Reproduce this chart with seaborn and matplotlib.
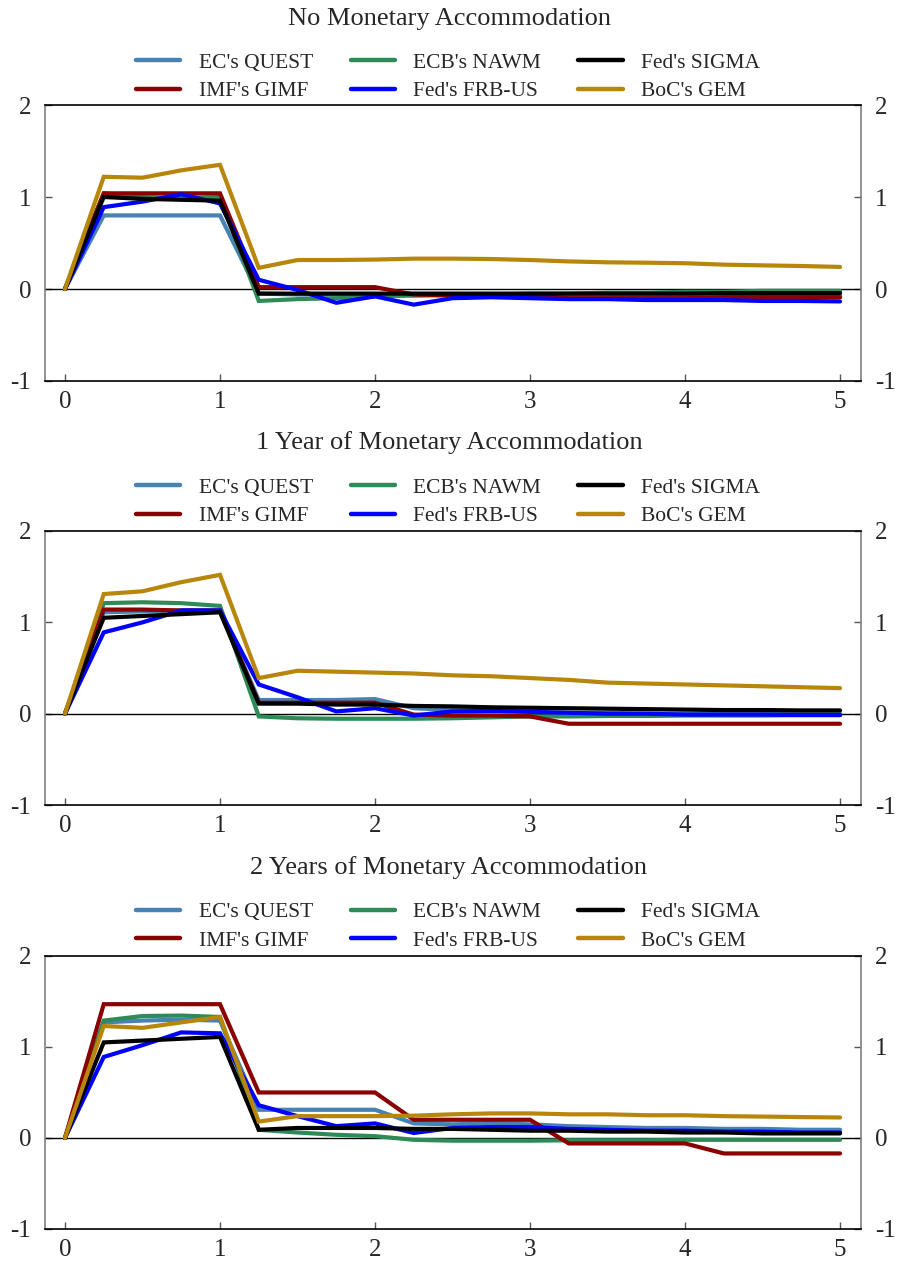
import numpy as np
import pandas as pd
import matplotlib
matplotlib.use("Agg")
import matplotlib.pyplot as plt
import seaborn as sns

# Quarterly horizon, years 0..5
years = [i * 0.25 for i in range(21)]

models = ["EC's QUEST", "IMF's GIMF", "ECB's NAWM", "Fed's FRB-US", "Fed's SIGMA", "BoC's GEM"]
colors = ["#4682B4", "#8B0000", "#2E8B57", "#0000FF", "#000000", "#B8860B"]
draw_order = ["EC's QUEST", "ECB's NAWM", "IMF's GIMF", "Fed's FRB-US", "Fed's SIGMA", "BoC's GEM"]

titles = ["No Monetary Accommodation",
          "1 Year of Monetary Accommodation",
          "2 Years of Monetary Accommodation"]

# --- No monetary accommodation ---
p0_quest = [0, 0.80, 0.80, 0.80, 0.80, -0.05, -0.06, -0.06, -0.07, -0.07, -0.07, -0.07, -0.07,
            -0.07, -0.07, -0.07, -0.07, -0.07, -0.07, -0.07, -0.07]
p0_gimf = [0, 1.04, 1.04, 1.04, 1.04, 0.02, 0.02, 0.02, 0.02, -0.06, -0.07, -0.07, -0.07,
           -0.10, -0.10, -0.10, -0.10, -0.09, -0.09, -0.09, -0.09]
p0_nawm = [0, 1.04, 1.00, 0.99, 1.00, -0.13, -0.11, -0.10, -0.08, -0.07, -0.06, -0.06, -0.05,
           -0.05, -0.04, -0.04, -0.03, -0.03, -0.02, -0.02, -0.02]
p0_frbus = [0, 0.89, 0.95, 1.03, 0.93, 0.10, -0.01, -0.15, -0.08, -0.17, -0.10, -0.09, -0.10,
            -0.11, -0.11, -0.12, -0.12, -0.12, -0.13, -0.13, -0.135]
p0_sigma = [0, 1.00, 0.98, 0.97, 0.96, -0.05, -0.05, -0.05, -0.05, -0.05, -0.05, -0.05, -0.05,
            -0.05, -0.05, -0.05, -0.05, -0.045, -0.045, -0.045, -0.045]
p0_gem = [0, 1.22, 1.21, 1.29, 1.35, 0.23, 0.315, 0.315, 0.32, 0.33, 0.33, 0.326, 0.315,
          0.30, 0.29, 0.286, 0.28, 0.265, 0.257, 0.25, 0.24]

# --- 1 year of monetary accommodation ---
p1_quest = [0, 1.11, 1.12, 1.13, 1.13, 0.15, 0.15, 0.15, 0.16, 0.06, 0.04, 0.03, 0.02,
            0.01, 0.01, 0.0, 0.0, 0.0, 0.0, 0.0, 0.0]
p1_gimf = [0, 1.14, 1.14, 1.13, 1.13, 0.12, 0.12, 0.12, 0.12, -0.01, -0.02, -0.02, -0.03,
           -0.11, -0.11, -0.11, -0.11, -0.11, -0.11, -0.11, -0.11]
p1_nawm = [0, 1.21, 1.22, 1.21, 1.18, -0.03, -0.05, -0.055, -0.055, -0.055, -0.05, -0.04, -0.03,
           -0.03, -0.025, -0.025, -0.02, -0.02, -0.02, -0.015, -0.015]
p1_frbus = [0, 0.89, 1.00, 1.13, 1.13, 0.32, 0.18, 0.025, 0.06, -0.02, 0.025, 0.03, 0.02,
            0.01, 0.0, 0.0, -0.01, -0.01, -0.01, -0.015, -0.015]
p1_sigma = [0, 1.05, 1.07, 1.09, 1.11, 0.11, 0.11, 0.10, 0.10, 0.085, 0.08, 0.07, 0.065,
            0.06, 0.055, 0.05, 0.045, 0.04, 0.04, 0.036, 0.036]
p1_gem = [0, 1.31, 1.34, 1.44, 1.52, 0.39, 0.47, 0.46, 0.45, 0.44, 0.42, 0.41, 0.39,
          0.37, 0.34, 0.33, 0.32, 0.31, 0.30, 0.29, 0.28]

# --- 2 years of monetary accommodation ---
p2_quest = [0, 1.27, 1.29, 1.30, 1.29, 0.31, 0.31, 0.31, 0.31, 0.16, 0.15, 0.16, 0.15,
            0.13, 0.12, 0.11, 0.11, 0.10, 0.10, 0.09, 0.09]
p2_gimf = [0, 1.47, 1.47, 1.47, 1.47, 0.50, 0.50, 0.50, 0.50, 0.20, 0.20, 0.20, 0.20,
           -0.06, -0.06, -0.06, -0.06, -0.17, -0.17, -0.17, -0.17]
p2_nawm = [0, 1.29, 1.34, 1.345, 1.33, 0.09, 0.06, 0.035, 0.02, -0.02, -0.03, -0.03, -0.03,
           -0.025, -0.025, -0.025, -0.02, -0.02, -0.02, -0.02, -0.02]
p2_frbus = [0, 0.89, 1.02, 1.16, 1.15, 0.36, 0.24, 0.13, 0.16, 0.055, 0.11, 0.12, 0.12,
            0.10, 0.09, 0.08, 0.08, 0.07, 0.07, 0.06, 0.06]
p2_sigma = [0, 1.05, 1.07, 1.09, 1.11, 0.09, 0.11, 0.11, 0.11, 0.10, 0.10, 0.09, 0.08,
            0.08, 0.07, 0.07, 0.06, 0.06, 0.05, 0.05, 0.05]
p2_gem = [0, 1.23, 1.21, 1.27, 1.33, 0.18, 0.24, 0.24, 0.24, 0.245, 0.26, 0.27, 0.27,
          0.26, 0.26, 0.25, 0.25, 0.24, 0.235, 0.23, 0.225]

panels = [
    dict(zip(models, [p0_quest, p0_gimf, p0_nawm, p0_frbus, p0_sigma, p0_gem])),
    dict(zip(models, [p1_quest, p1_gimf, p1_nawm, p1_frbus, p1_sigma, p1_gem])),
    dict(zip(models, [p2_quest, p2_gimf, p2_nawm, p2_frbus, p2_sigma, p2_gem])),
]

sns.set_theme(style="white")
plt.rcParams["font.family"] = ["Liberation Serif", "DejaVu Serif"]
plt.rcParams["axes.unicode_minus"] = False

palette = dict(zip(models, colors))
W, H = 898, 1267
fig = plt.figure(figsize=(W / 100, H / 100), dpi=100)

ax_left, ax_width = 0.0501, 0.9087
bottoms = [0.6993, 0.3646, 0.0300]
heights = [0.2178, 0.2163, 0.2155]
title_y = [19, 443, 868]      # pixel rows from the top
legend_y = [77, 502, 926.5]

for k, (series, title) in enumerate(zip(panels, titles)):
    ax = fig.add_axes([ax_left, bottoms[k], ax_width, heights[k]])
    df = pd.DataFrame(
        [(m, x, v) for m in draw_order for x, v in zip(years, series[m])],
        columns=["model", "year", "value"],
    )
    sns.lineplot(data=df, x="year", y="value", hue="model", hue_order=draw_order,
                 palette=palette, linewidth=3.0, ax=ax, legend=False,
                 solid_capstyle="round", solid_joinstyle="miter")
    ax.axhline(0, color="black", linewidth=1.0, zorder=1)
    ax.set_xlim(-0.129, 5.135)
    ax.set_ylim(-1, 2)
    ax.set_xticks([0, 1, 2, 3, 4, 5])
    ax.set_yticks([-1, 0, 1, 2])
    ax.set_xlabel("")
    ax.set_ylabel("")
    ax.tick_params(axis="both", labelsize=18, direction="in", length=5, width=1,
                   color="#555555")
    ax.tick_params(axis="y", left=True, right=True, labelleft=True, labelright=True, pad=10)
    ax.tick_params(axis="x", bottom=True, top=False, pad=7)
    for side in ["left", "right"]:
        ax.spines[side].set_color("#808080")
        ax.spines[side].set_linewidth(1.2)
    for side in ["top", "bottom"]:
        ax.spines[side].set_color("black")
        ax.spines[side].set_linewidth(1.2)

    # legend in the order the three columns read
    handles = [plt.Line2D([], [], color=palette[m], linewidth=3.2, solid_capstyle="round")
               for m in models]
    ax.legend(handles, models, ncol=3, loc="center",
              bbox_to_anchor=(0.499, 1 - legend_y[k] / H), bbox_transform=fig.transFigure,
              frameon=False, fontsize=15.5, handlelength=2.05, handletextpad=0.85,
              columnspacing=1.75, labelspacing=0.4, borderaxespad=0.0, borderpad=0.0)
    fig.text(0.5, 1 - title_y[k] / H, title, fontsize=19, ha="center", va="center")

fig.savefig("out.png", dpi=100)
